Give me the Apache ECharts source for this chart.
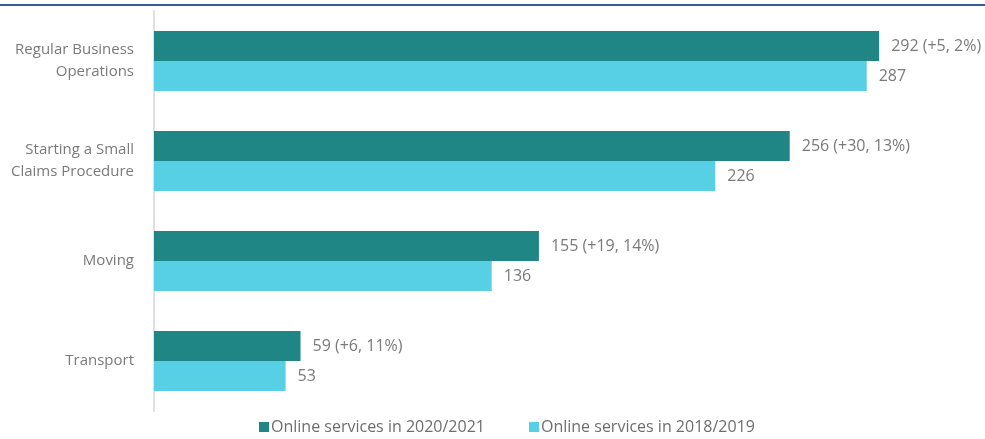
<!DOCTYPE html>
<html><head><meta charset="utf-8">
<script src="https://cdn.jsdelivr.net/npm/echarts@6/dist/echarts.min.js"></script>
<style>html,body{margin:0;padding:0;background:#fff}#c{width:985px;height:439px}</style>
</head><body><div id="c"></div>
<script>
var categories = ["Regular Business\nOperations", "Starting a Small\nClaims Procedure", "Moving", "Transport"];
var values2021 = [292, 256, 155, 59];
var values2019 = [287, 226, 136, 53];
var labels2021 = ["292 (+5, 2%)", "256 (+30, 13%)", "155 (+19, 14%)", "59 (+6, 11%)"];
var seriesNames = ["Online services in 2020/2021", "Online services in 2018/2019"];

var chart = echarts.init(document.getElementById('c'));
var font = "'Open Sans', sans-serif";
chart.setOption({
  animation: false,
  textStyle: {fontFamily: font},
  graphic: [{type: 'rect', left: 0, top: 4, shape: {width: 985, height: 2}, style: {fill: '#3a5a9a'}}],
  grid: {left: 154, top: 11, width: 745, height: 400},
  legend: {
    bottom: -1, left: 254, itemWidth: 10, itemHeight: 10, itemGap: 44,
    icon: 'rect',
    textStyle: {color: '#6e6e6e', fontSize: 16, fontFamily: font, padding: [0,0,0,-3]},
    data: seriesNames
  },
  xAxis: {type: 'value', min: 0, max: 300, show: false},
  yAxis: {
    type: 'category', data: categories, inverse: true,
    axisLine: {show: true, lineStyle: {color: '#e0e0e0', width: 2}},
    axisTick: {show: false},
    axisLabel: {color: '#7a7a7a', fontSize: 15, margin: 20, lineHeight: 22, align: 'right', fontFamily: font}
  },
  series: [
    {name: seriesNames[0], type: 'bar', data: values2021, barWidth: 30, barGap: '0%',
     itemStyle: {color: '#1f8585'},
     label: {show: true, position: 'right', distance: 12, color: '#7a7a7a', fontSize: 16, fontFamily: font,
       formatter: function(p){ return labels2021[p.dataIndex]; }}},
    {name: seriesNames[1], type: 'bar', data: values2019, barWidth: 30,
     itemStyle: {color: '#57cfe5'},
     label: {show: true, position: 'right', distance: 12, color: '#7a7a7a', fontSize: 16, fontFamily: font}}
  ]
});
</script></body></html>
